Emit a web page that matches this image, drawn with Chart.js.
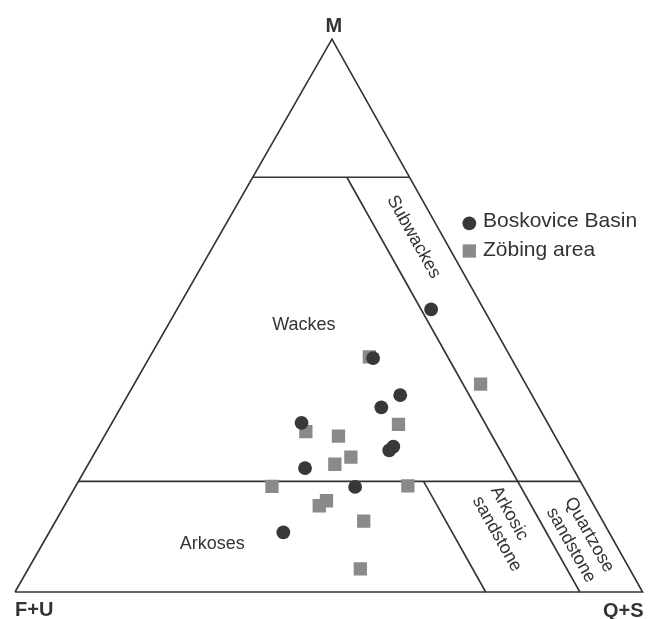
<!DOCTYPE html>
<html>
<head>
<meta charset="utf-8">
<script src="https://cdn.jsdelivr.net/npm/chart.js@4.4.1/dist/chart.umd.min.js"></script>
<style>
  html, body { margin: 0; padding: 0; background: #fff; }
  canvas { display: block; }
</style>
</head>
<body>
<canvas id="c" width="652" height="619"></canvas>
<script>
// Sample compositions: % matrix (M) and % quartz + stable fragments (Q+S).
// The rest of each sample is feldspar + unstable fragments (F+U).
const boskoviceM = [42.3, 35.6, 33.4, 30.6, 26.3, 25.6, 22.4, 19.0, 10.8, 51.1];
const boskoviceQ = [35.7, 43.4, 41.5, 30.2, 47.0, 46.7, 34.9, 44.6, 37.3, 40.5];
const zobingM = [42.5, 29.0, 28.2, 30.3, 24.4, 23.1, 19.1, 19.2, 16.5, 15.6, 12.8, 4.2, 37.6];
const zobingQ = [35.0, 31.7, 37.3, 45.8, 41.2, 39.3, 31.3, 52.9, 41.3, 40.6, 49.1, 52.9, 55.2];

const seriesNames = ['Boskovice Basin', 'Zöbing area'];
const cornerNames = ['M', 'F+U', 'Q+S'];
const fieldNames = ['Wackes', 'Arkoses', 'Subwackes', 'Arkosic\nsandstone', 'Quartzose\nsandstone'];

// Field boundaries (%)
const matrixUpper = 75;   // top of the wacke field
const matrixLower = 20;   // wackes / arenites
const feldSubwacke = 10;  // F+U limit of subwackes & quartzose sandstone
const feldArkosic = 25;   // F+U limit of arkosic sandstone

// Ternary -> plane: base runs F+U (0) to Q+S (100), height is M.
const APEX = 0.505;
const tern = (m, q) => ({ x: q + APEX * m, y: m });

const INK = '#333333';
const lineSet = (pts) => ({
  type: 'scatter', data: pts, showLine: true, pointRadius: 0, fill: false,
  borderColor: INK, borderWidth: 1.6, borderJoinStyle: 'miter', clip: false, order: 2
});

const datasets = [
  {
    label: seriesNames[0],
    data: boskoviceM.map((m, i) => tern(m, boskoviceQ[i])),
    pointStyle: 'circle', pointRadius: 6.9, pointBorderWidth: 0,
    backgroundColor: '#37383a', borderColor: '#37383a', order: 0
  },
  {
    label: seriesNames[1],
    data: zobingM.map((m, i) => tern(m, zobingQ[i])),
    pointStyle: 'rect', pointRadius: 9.4, pointBorderWidth: 0,
    backgroundColor: '#8a8a8d', borderColor: '#8a8a8d', order: 1
  },
  lineSet([tern(0, 0), tern(0, 100), tern(100, 0), tern(0, 0)]),
  lineSet([tern(matrixUpper, 0), tern(matrixUpper, 100 - matrixUpper)]),
  lineSet([tern(matrixLower, 0), tern(matrixLower, 100 - matrixLower)]),
  lineSet([tern(matrixUpper, 100 - matrixUpper - feldSubwacke), tern(0, 100 - feldSubwacke)]),
  lineSet([tern(matrixLower, 100 - matrixLower - feldArkosic), tern(0, 100 - feldArkosic)])
];

// Text: corner names, field names and the legend.
const textPlugin = {
  id: 'ternaryText',
  afterDatasetsDraw(chart) {
    const ctx = chart.ctx;
    const sx = chart.scales.x, sy = chart.scales.y;
    const px = (m, q) => { const p = tern(m, q); return [sx.getPixelForValue(p.x), sy.getPixelForValue(p.y)]; };
    const angle = Math.atan2(sy.getPixelForValue(0) - sy.getPixelForValue(100),
                             sx.getPixelForValue(100) - sx.getPixelForValue(APEX * 100));
    ctx.save();
    ctx.fillStyle = INK;

    // corners
    ctx.font = 'bold 20px "Liberation Sans", Arial, sans-serif';
    ctx.textBaseline = 'alphabetic';
    let [ax, ay] = px(100, 0);
    ctx.textAlign = 'center';
    ctx.fillText(cornerNames[0], ax + 2, ay - 7);
    let [lx, ly] = px(0, 0);
    ctx.textAlign = 'left';
    ctx.fillText(cornerNames[1], lx, ly + 24);
    let [rx, ry] = px(0, 100);
    ctx.textAlign = 'right';
    ctx.fillText(cornerNames[2], rx + 1, ry + 25);

    // fields
    ctx.font = '18px "Liberation Sans", Arial, sans-serif';
    ctx.textAlign = 'center';
    ctx.textBaseline = 'middle';
    const flat = (name, m, q) => { const [x, y] = px(m, q); ctx.fillText(name, x, y); };
    flat(fieldNames[0], 48.2, 21.7);
    flat(fieldNames[1], 8.6, 27.1);

    const slanted = (name, m, q) => {
      const [x, y] = px(m, q);
      const lines = name.split('\n');
      const w = Math.max(...lines.map(s => ctx.measureText(s).width));
      const step = 21;
      ctx.save();
      ctx.translate(x, y);
      ctx.rotate(angle);
      ctx.textAlign = 'left';
      lines.forEach((s, i) => {
        ctx.fillText(s, -w / 2, (i - (lines.length - 1) / 2) * step);
      });
      ctx.restore();
    };
    slanted(fieldNames[2], 64.2, 31.1);
    slanted(fieldNames[3], 11.4, 72.5);
    slanted(fieldNames[4], 9.4, 85.3);

    // legend
    ctx.font = '21px "Liberation Sans", Arial, sans-serif';
    ctx.textAlign = 'left';
    ctx.textBaseline = 'alphabetic';
    const legendRows = [[223.3, 226.7], [251, 255.7]];
    chart.data.datasets.slice(0, 2).forEach((ds, i) => {
      const [cy, by] = legendRows[i];
      ctx.fillStyle = ds.backgroundColor;
      Chart.helpers.drawPoint(ctx, {
        pointStyle: ds.pointStyle, radius: ds.pointRadius, rotation: 0, borderWidth: 0
      }, 469.3, cy);
      ctx.fillStyle = INK;
      ctx.fillText(ds.label, 483, by);
    });
    ctx.restore();
  }
};

new Chart(document.getElementById('c'), {
  type: 'scatter',
  data: { datasets },
  options: {
    responsive: false,
    animation: false,
    events: [],
    layout: { padding: { left: 15, right: 9, top: 39, bottom: 27 } },
    scales: {
      x: { type: 'linear', min: 0, max: 100, display: false },
      y: { type: 'linear', min: 0, max: 100, display: false }
    },
    plugins: { legend: { display: false }, tooltip: { enabled: false } }
  },
  plugins: [textPlugin]
});
</script>
</body>
</html>
